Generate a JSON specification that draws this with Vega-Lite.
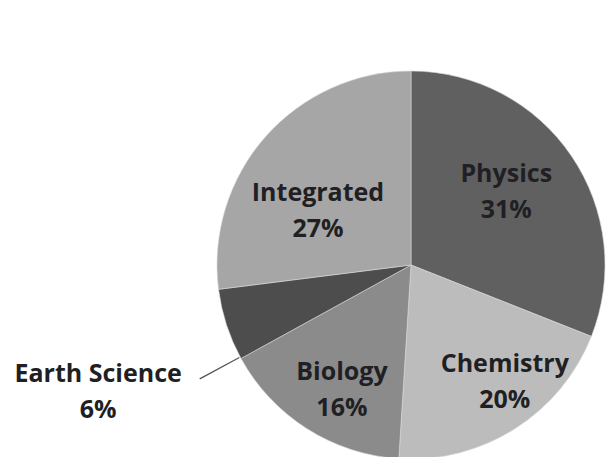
{
  "$schema": "https://vega.github.io/schema/vega-lite/v6.json",
  "autosize": "none",
  "width": 388,
  "height": 388,
  "padding": {"left": 217, "top": 71, "right": 6, "bottom": 0},
  "background": "#ffffff",
  "config": {"view": {"stroke": null}},
  "data": {
    "values": [
      {"idx": 1, "subject": "Physics", "value": 31},
      {"idx": 2, "subject": "Chemistry", "value": 20},
      {"idx": 3, "subject": "Biology", "value": 16},
      {"idx": 4, "subject": "Earth Science", "value": 6},
      {"idx": 5, "subject": "Integrated", "value": 27}
    ]
  },
  "transform": [
    {"calculate": "datum.subject + '\\n' + datum.value + '%'", "as": "label"}
  ],
  "layer": [
    {
      "mark": {"type": "arc", "outerRadius": 194, "stroke": "#d9d9d9", "strokeWidth": 0.6},
      "encoding": {
        "theta": {"field": "value", "type": "quantitative", "stack": true},
        "order": {"field": "idx", "type": "quantitative"},
        "color": {
          "field": "subject",
          "type": "nominal",
          "scale": {
            "domain": ["Physics", "Chemistry", "Biology", "Earth Science", "Integrated"],
            "range": ["#606060", "#bcbcbc", "#8b8b8b", "#4d4d4d", "#a6a6a6"]
          },
          "legend": null
        }
      }
    },
    {
      "mark": {"type": "arc", "innerRadius": 195, "outerRadius": 240, "theta": 4.2150, "theta2": 4.2210, "fill": "#555555"},
      "encoding": {
        "opacity": {"condition": {"test": "datum.subject === 'Earth Science'", "value": 1}, "value": 0}
      }
    },
    {
      "mark": {"type": "text", "radius": 120, "dx": -4, "dy": -24, "font": "Open Sans", "fontWeight": "bold", "fontSize": 25, "lineHeight": 36, "lineBreak": "\n", "fill": "#1f1f24", "align": "center", "baseline": "middle"},
      "encoding": {
        "theta": {"field": "value", "type": "quantitative", "stack": true},
        "order": {"field": "idx", "type": "quantitative"},
        "detail": {"field": "subject"},
        "text": {"condition": {"test": "datum.subject === 'Physics'", "field": "label"}, "value": ""}
      }
    },
    {
      "mark": {"type": "text", "radius": 149, "dx": 14, "dy": -27, "font": "Open Sans", "fontWeight": "bold", "fontSize": 25, "lineHeight": 36, "lineBreak": "\n", "fill": "#1f1f24", "align": "center", "baseline": "middle"},
      "encoding": {
        "theta": {"field": "value", "type": "quantitative", "stack": true},
        "order": {"field": "idx", "type": "quantitative"},
        "detail": {"field": "subject"},
        "text": {"condition": {"test": "datum.subject === 'Chemistry'", "field": "label"}, "value": ""}
      }
    },
    {
      "mark": {"type": "text", "radius": 142, "dx": 7, "dy": -13, "font": "Open Sans", "fontWeight": "bold", "fontSize": 25, "lineHeight": 36, "lineBreak": "\n", "fill": "#1f1f24", "align": "center", "baseline": "middle"},
      "encoding": {
        "theta": {"field": "value", "type": "quantitative", "stack": true},
        "order": {"field": "idx", "type": "quantitative"},
        "detail": {"field": "subject"},
        "text": {"condition": {"test": "datum.subject === 'Biology'", "field": "label"}, "value": ""}
      }
    },
    {
      "mark": {"type": "text", "radius": 329, "dx": 0, "dy": 7, "font": "Open Sans", "fontWeight": "bold", "fontSize": 25, "lineHeight": 36, "lineBreak": "\n", "fill": "#1f1f24", "align": "center", "baseline": "middle"},
      "encoding": {
        "theta": {"field": "value", "type": "quantitative", "stack": true},
        "order": {"field": "idx", "type": "quantitative"},
        "detail": {"field": "subject"},
        "text": {"condition": {"test": "datum.subject === 'Earth Science'", "field": "label"}, "value": ""}
      }
    },
    {
      "mark": {"type": "text", "radius": 108, "dx": -12, "dy": -1, "font": "Open Sans", "fontWeight": "bold", "fontSize": 25, "lineHeight": 36, "lineBreak": "\n", "fill": "#1f1f24", "align": "center", "baseline": "middle"},
      "encoding": {
        "theta": {"field": "value", "type": "quantitative", "stack": true},
        "order": {"field": "idx", "type": "quantitative"},
        "detail": {"field": "subject"},
        "text": {"condition": {"test": "datum.subject === 'Integrated'", "field": "label"}, "value": ""}
      }
    }
  ]
}
